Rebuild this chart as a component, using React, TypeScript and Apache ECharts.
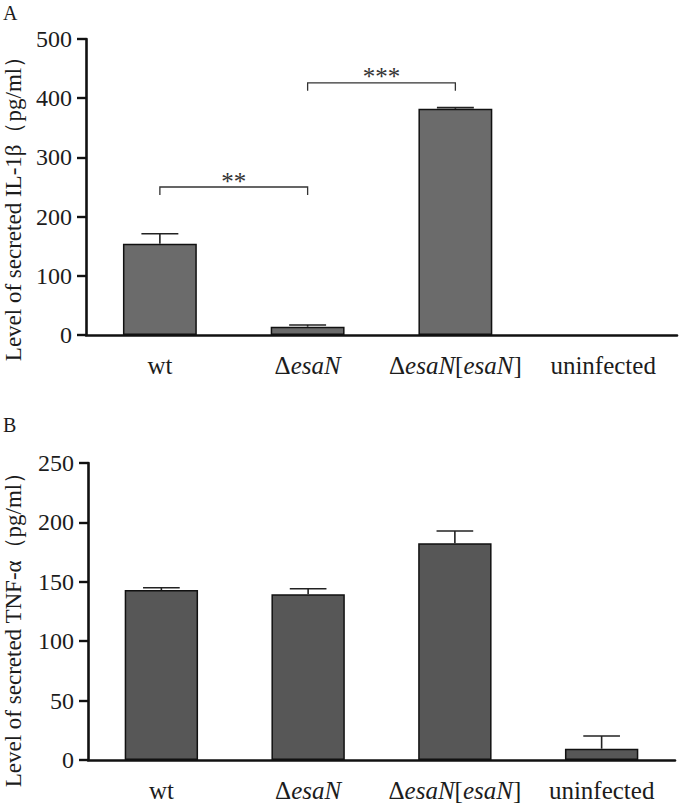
import React, { useEffect, useRef } from "react";
import * as echarts from "echarts";

const categories = ["wt", "ΔesaN", "ΔesaN[esaN]", "uninfected"];
const il1bMeans = [154, 14, 382, 0];
const il1bSem = [17, 3, 2, 0];
const tnfMeans = [143, 139.5, 182.5, 9.5];
const tnfSem = [2, 4.7, 10.3, 10.7];
const il1bTicks = { min: 0, max: 500, interval: 100 };
const tnfTicks = { min: 0, max: 250, interval: 50 };
const brackets = [
  { from: 0, to: 1, y: 250, label: "**" },
  { from: 1, to: 2, y: 426, label: "***" },
];
const titleA = "Level of secreted IL-1β（pg/ml）";
const titleB = "Level of secreted TNF-α（pg/ml）";

const SERIF = "Liberation Serif, Times New Roman, serif";
const TXT = "#1c1c1c";

function fmtCat(v: string) {
  return v.replace(/esaN/g, "{i|esaN}");
}

function errorRender(params: any, api: any) {
  const i = api.value(0);
  const m = api.value(1);
  const t = api.value(2);
  if (!(t > m)) return null;
  const base = api.coord([i, m]);
  const top = api.coord([i, t]);
  const hw = api.size([1, 0])[0] * 0.125;
  const st = { stroke: "#222", lineWidth: 1.6 };
  return {
    type: "group",
    children: [
      { type: "line", shape: { x1: base[0], y1: base[1], x2: top[0], y2: top[1] }, style: st },
      { type: "line", shape: { x1: top[0] - hw, y1: top[1], x2: top[0] + hw, y2: top[1] }, style: st },
    ],
  };
}

function bracketRender(params: any, api: any) {
  const a = api.coord([api.value(0), api.value(2)]);
  const b = api.coord([api.value(1), api.value(2)]);
  const drop = 8;
  const label = brackets[params.dataIndex].label;
  return {
    type: "group",
    children: [
      {
        type: "polyline",
        shape: { points: [[a[0], a[1] + drop], [a[0], a[1]], [b[0], a[1]], [b[0], a[1] + drop]] },
        style: { stroke: "#333", lineWidth: 1.3, fill: null },
      },
      {
        type: "text",
        x: (a[0] + b[0]) / 2,
        y: a[1] - 6,
        style: {
          text: label,
          align: "center",
          verticalAlign: "middle",
          fontSize: 25,
          fontFamily: SERIF,
          fill: "#333",
        },
      },
    ],
  };
}

function barData(vals: number[]) {
  return vals.map((v) => (v === 0 ? { value: v, itemStyle: { borderWidth: 0 } } : v));
}

export default function App() {
  const ref = useRef<HTMLDivElement>(null);
  useEffect(() => {
    if (!ref.current) return;
    const chart = echarts.init(ref.current, null, { renderer: "svg" });
    const xAxisBase = (gi: number) => ({
      type: "category",
      gridIndex: gi,
      data: categories,
      boundaryGap: true,
      axisLine: { lineStyle: { color: "#111", width: 2.6 } },
      axisTick: { show: false },
      axisLabel: {
        interval: 0,
        formatter: fmtCat,
        fontSize: 25,
        fontFamily: SERIF,
        color: TXT,
        margin: 18,
        rich: { i: { fontStyle: "italic", fontSize: 25, fontFamily: SERIF, color: TXT } },
      },
    });
    const yAxisBase = (gi: number, t: any) => ({
      type: "value",
      gridIndex: gi,
      min: t.min,
      max: t.max,
      interval: t.interval,
      axisLine: { show: true, lineStyle: { color: "#111", width: 2.6 } },
      axisTick: { show: true, length: 9, lineStyle: { color: "#111", width: 2.4 } },
      splitLine: { show: false },
      axisLabel: { fontSize: 24, fontFamily: SERIF, color: TXT, margin: 14 },
    });
    chart.setOption({
      animation: false,
      backgroundColor: "#fff",
      grid: [
        { left: 86, right: 3, top: 39, height: 296 },
        { left: 88, right: 5, top: 463, height: 297 },
      ],
      xAxis: [xAxisBase(0), xAxisBase(1)],
      yAxis: [yAxisBase(0, il1bTicks), yAxisBase(1, tnfTicks)],
      graphic: [
        { type: "text", x: 3, y: 3, style: { text: "A", fontSize: 20, fontFamily: SERIF, fill: TXT } },
        { type: "text", x: 3, y: 415, style: { text: "B", fontSize: 20, fontFamily: SERIF, fill: TXT } },
        {
          type: "text",
          x: 13,
          y: 203,
          rotation: Math.PI / 2,
          style: { text: titleA, fontSize: 23, fontFamily: SERIF, fill: TXT, align: "center", verticalAlign: "middle" },
        },
        {
          type: "text",
          x: 13,
          y: 624,
          rotation: Math.PI / 2,
          style: { text: titleB, fontSize: 23, fontFamily: SERIF, fill: TXT, align: "center", verticalAlign: "middle" },
        },
      ],
      series: [
        {
          type: "bar",
          xAxisIndex: 0,
          yAxisIndex: 0,
          data: barData(il1bMeans),
          barWidth: "50%",
          itemStyle: { color: "#6b6b6b", borderColor: "#111", borderWidth: 1.5 },
        },
        {
          type: "custom",
          xAxisIndex: 0,
          yAxisIndex: 0,
          renderItem: errorRender,
          encode: { x: 0, y: [1, 2] },
          data: il1bMeans.map((m, i) => [i, m, m + il1bSem[i]]),
          z: 5,
        },
        {
          type: "custom",
          xAxisIndex: 0,
          yAxisIndex: 0,
          renderItem: bracketRender,
          encode: { x: [0, 1], y: 2 },
          data: brackets.map((b) => [b.from, b.to, b.y]),
          z: 5,
        },
        {
          type: "bar",
          xAxisIndex: 1,
          yAxisIndex: 1,
          data: barData(tnfMeans),
          barWidth: "50%",
          itemStyle: { color: "#575757", borderColor: "#111", borderWidth: 1.5 },
        },
        {
          type: "custom",
          xAxisIndex: 1,
          yAxisIndex: 1,
          renderItem: errorRender,
          encode: { x: 0, y: [1, 2] },
          data: tnfMeans.map((m, i) => [i, m, m + tnfSem[i]]),
          z: 5,
        },
      ],
    });
    return () => chart.dispose();
  }, []);
  return (
    <div
      ref={ref}
      style={{ position: "absolute", left: 0, top: 0, width: 680, height: 809 }}
    />
  );
}
